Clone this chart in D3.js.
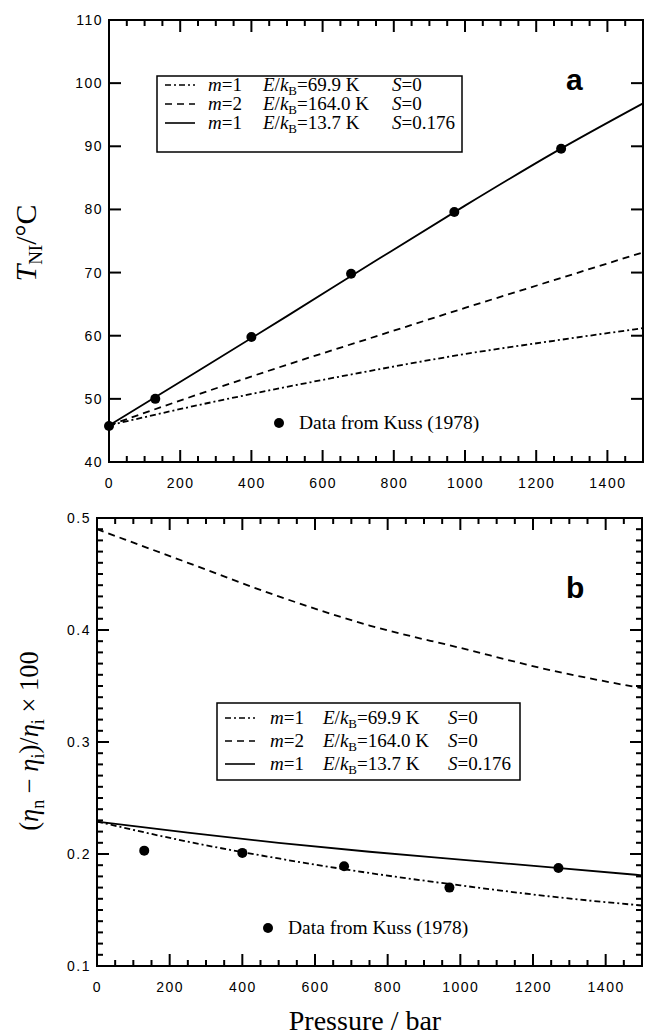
<!DOCTYPE html>
<html>
<head>
<meta charset="utf-8">
<script src="https://cdn.jsdelivr.net/npm/d3@7"></script>
<style>
  body { margin: 0; background: #fff; }
  svg { display: block; }
  .tick text { font-family: "Liberation Sans", Arial, sans-serif; font-size: 14px; letter-spacing: 1.5px; }
  .serif { font-family: "Liberation Serif", "Times New Roman", serif; }
</style>
</head>
<body>
<svg id="chart" width="645" height="1036"></svg>
<script>
// pressures along the model curves (bar)
const curveP = [0, 250, 500, 750, 1000, 1250, 1500];

// panel a: T_NI (°C)
const tniM1 = [45.8, 49.0, 51.9, 54.6, 57.1, 59.2, 61.2];      // m=1, S=0
const tniM2 = [45.8, 50.7, 55.4, 59.9, 64.4, 68.8, 73.2];      // m=2, S=0
const tniS = [45.8, 54.4, 63.1, 71.9, 80.6, 89.0, 96.8];       // m=1, S=0.176
const kussP_a = [0, 130, 400, 680, 970, 1270];
const kussT = [45.7, 50.0, 59.8, 69.8, 79.6, 89.6];

// panel b: (eta_n - eta_i)/eta_i x 100
const etaM1 = [0.229, 0.211, 0.196, 0.183, 0.172, 0.162, 0.154];
const etaM2 = [0.490, 0.460, 0.430, 0.404, 0.384, 0.364, 0.348];
const etaS = [0.229, 0.219, 0.210, 0.202, 0.195, 0.188, 0.181];
const kussP_b = [130, 400, 680, 970, 1270];
const kussEta = [0.203, 0.201, 0.189, 0.170, 0.1875];

const xTicks = [0, 200, 400, 600, 800, 1000, 1200, 1400];
const yTicksA = [40, 50, 60, 70, 80, 90, 100, 110];
const yTicksB = [0.1, 0.2, 0.3, 0.4, 0.5];

const legendRows = [
  {m: "1", e: "69.9", s: "0", dash: "6,3,2,3"},
  {m: "2", e: "164.0", s: "0", dash: "7,5"},
  {m: "1", e: "13.7", s: "0.176", dash: null}
];

const svg = d3.select("#chart");
const tickLayer = [];

function drawPanel(o) {
  const x = d3.scaleLinear().domain([0, 1500]).range([o.left, o.right]);
  const y = d3.scaleLinear().domain(o.yDomain).range([o.bottom, o.top]);
  const g = svg.append("g");

  // curves
  const line = d3.line().curve(d3.curveMonotoneX)
    .x(d => x(d[0])).y(d => y(d[1]));
  o.curves.forEach(c => {
    g.append("path")
      .datum(curveP.map((p, i) => [p, c.vals[i]]))
      .attr("fill", "none").attr("stroke", "#000").attr("stroke-width", 1.8)
      .attr("stroke-dasharray", c.dash)
      .attr("d", line);
  });

  // data points
  g.append("g").selectAll("circle")
    .data(o.pts.p.map((p, i) => [p, o.pts.v[i]]))
    .enter().append("circle")
    .attr("cx", d => x(d[0])).attr("cy", d => y(d[1]))
    .attr("r", 5).attr("fill", "#000");

  // legend box
  const L = o.legend;
  g.append("rect").attr("x", L.x).attr("y", L.y).attr("width", L.w).attr("height", L.h)
    .attr("fill", "#fff").attr("stroke", "#000").attr("stroke-width", 1.5);
  legendRows.forEach((r, i) => {
    const cy = L.y + L.y0 + i * L.dy;
    g.append("line").attr("x1", L.x + 8).attr("x2", L.x + 38)
      .attr("y1", cy).attr("y2", cy)
      .attr("stroke", "#000").attr("stroke-width", 1.6)
      .attr("stroke-dasharray", r.dash);
    const t = g.append("text").attr("class", "serif").attr("font-size", 19)
      .attr("x", L.x + L.c1).attr("y", cy + 6);
    t.append("tspan").attr("font-style", "italic").text("m");
    t.append("tspan").text("=" + r.m);
    const t2 = g.append("text").attr("class", "serif").attr("font-size", 19)
      .attr("x", L.x + L.c2).attr("y", cy + 6);
    t2.append("tspan").attr("font-style", "italic").text("E");
    t2.append("tspan").text("/");
    t2.append("tspan").attr("font-style", "italic").text("k");
    t2.append("tspan").attr("font-size", 13).attr("dy", 4).text("B");
    t2.append("tspan").attr("dy", -4).text("=" + r.e + " K");
    const t3 = g.append("text").attr("class", "serif").attr("font-size", 19)
      .attr("x", L.x + L.c3).attr("y", cy + 6);
    t3.append("tspan").attr("font-style", "italic").text("S");
    t3.append("tspan").text("=" + r.s);
  });

  // data note
  g.append("circle").attr("cx", o.note.cx).attr("cy", o.note.cy).attr("r", 5).attr("fill", "#000");
  g.append("text").attr("class", "serif").attr("font-size", 19.5)
    .attr("x", o.note.cx + 20).attr("y", o.note.cy + 6).text("Data from Kuss (1978)");

  // panel letter
  g.append("text").attr("x", o.letter.x).attr("y", o.letter.y)
    .attr("font-family", "Liberation Sans, Arial, sans-serif").attr("font-weight", "bold")
    .attr("font-size", 30).text(o.letter.t);

  // tick labels from d3 axes
  const ax = svg.append("g");
  ax.append("g").attr("transform", `translate(0,${o.bottom})`)
    .call(d3.axisBottom(x).tickValues(xTicks).tickSize(0).tickPadding(16).tickFormat(d3.format("d")))
    .call(a => a.select(".domain").remove());
  ax.append("g").attr("transform", `translate(${o.left},0)`)
    .call(d3.axisLeft(y).tickValues(o.yTicks).tickSize(0).tickPadding(6).tickFormat(o.yFormat))
    .call(a => a.select(".domain").remove());
  ax.selectAll(".tick text").attr("fill", "#000");

  // tick marks (inward) collected, drawn last
  const minorX = d3.range(0, 1501, 50);
  minorX.forEach(v => {
    const len = xTicks.includes(v) ? 12 : 6;
    tickLayer.push([x(v), o.bottom, x(v), o.bottom - len]);
    tickLayer.push([x(v), o.top, x(v), o.top + len]);
  });
  (o.yMinor || []).forEach(v => {
    tickLayer.push([o.left, y(v), o.left + 6, y(v)]);
    tickLayer.push([o.right, y(v), o.right - 6, y(v)]);
  });
  o.yTicks.forEach(v => {
    tickLayer.push([o.left, y(v), o.left + 12, y(v)]);
    tickLayer.push([o.right, y(v), o.right - 12, y(v)]);
  });

  // frame
  ax.append("rect").attr("x", o.left).attr("y", o.top)
    .attr("width", o.right - o.left).attr("height", o.bottom - o.top)
    .attr("fill", "none").attr("stroke", "#000").attr("stroke-width", 2);
}

drawPanel({
  left: 109, right: 643, top: 20, bottom: 462,
  yDomain: [40, 110], yTicks: yTicksA, yMinor: null, yFormat: d3.format("d"),
  curves: [
    {vals: tniM1, dash: "6,3,2,3"},
    {vals: tniM2, dash: "7,5"},
    {vals: tniS, dash: null}
  ],
  pts: {p: kussP_a, v: kussT},
  legend: {x: 157, y: 76, w: 305, h: 76, y0: 9, dy: 19, c1: 51, c2: 106, c3: 235},
  note: {cx: 279, cy: 423},
  letter: {x: 566, y: 90, t: "a"}
});

drawPanel({
  left: 97, right: 642, top: 518, bottom: 966,
  yDomain: [0.1, 0.5], yTicks: yTicksB, yMinor: d3.range(10, 51).map(d => d / 100),
  yFormat: d3.format(".1f"),
  curves: [
    {vals: etaM1, dash: "6,3,2,3"},
    {vals: etaM2, dash: "7,5"},
    {vals: etaS, dash: null}
  ],
  pts: {p: kussP_b, v: kussEta},
  legend: {x: 217, y: 703, w: 303, h: 77, y0: 15, dy: 23, c1: 53, c2: 106, c3: 231},
  note: {cx: 268, cy: 928},
  letter: {x: 566, y: 598, t: "b"}
});

// axis titles
const ta = svg.append("text").attr("class", "serif").attr("font-size", 30)
  .attr("text-anchor", "middle")
  .attr("transform", "translate(36,243) rotate(-90)");
ta.append("tspan").attr("font-style", "italic").text("T");
ta.append("tspan").attr("font-size", 19).attr("dy", 6).text("NI");
ta.append("tspan").attr("dy", -6).text("/°C");

const tb = svg.append("text").attr("class", "serif").attr("font-size", 26.5)
  .attr("text-anchor", "middle")
  .attr("transform", "translate(38,741) rotate(-90)");
tb.append("tspan").text("(");
tb.append("tspan").attr("font-style", "italic").text("η");
tb.append("tspan").attr("font-size", 18).attr("dy", 6).text("n");
tb.append("tspan").attr("dy", -6).text(" − ");
tb.append("tspan").attr("font-style", "italic").text("η");
tb.append("tspan").attr("font-size", 18).attr("dy", 6).text("i");
tb.append("tspan").attr("dy", -6).text(")/");
tb.append("tspan").attr("font-style", "italic").text("η");
tb.append("tspan").attr("font-size", 18).attr("dy", 6).text("i");
tb.append("tspan").attr("dy", -6).text(" × 100");

svg.append("text").attr("class", "serif").attr("font-size", 28)
  .attr("text-anchor", "middle").attr("x", 365).attr("y", 1030)
  .text("Pressure / bar");

// tick marks on top of everything
svg.append("g").selectAll("line").data(tickLayer).enter().append("line")
  .attr("x1", d => d[0]).attr("y1", d => d[1])
  .attr("x2", d => d[2]).attr("y2", d => d[3])
  .attr("stroke", "#000").attr("stroke-width", 2);
</script>
</body>
</html>
